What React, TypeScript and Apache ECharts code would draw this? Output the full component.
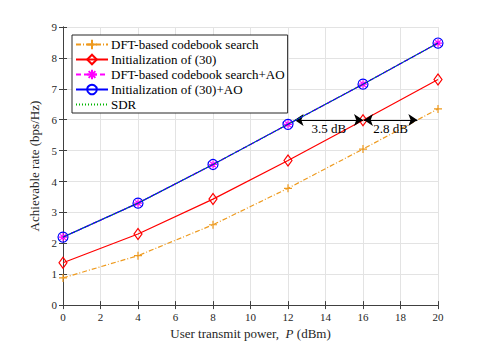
import React, { useEffect, useRef } from 'react';
import * as echarts from 'echarts';

const xValues = [0, 4, 8, 12, 16, 20];
const dftSearch = [0.88, 1.6, 2.6, 3.78, 5.05, 6.35];
const init30 = [1.37, 2.3, 3.43, 4.68, 5.98, 7.3];
const dftSearchAO = [2.2, 3.3, 4.55, 5.85, 7.15, 8.48];
const init30AO = [2.2, 3.3, 4.55, 5.85, 7.15, 8.48];
const sdr = [2.2, 3.3, 4.55, 5.85, 7.15, 8.48];
const seriesNames = [
  'DFT-based codebook search',
  'Initialization of (30)',
  'DFT-based codebook search+AO',
  'Initialization of (30)+AO',
  'SDR',
];
const gapArrows = [
  { from: [12.35, 5.99], to: [16, 5.99], label: '3.5 dB' },
  { from: [16.05, 5.99], to: [18.9, 5.99], label: '2.8 dB' },
];

const FONT = 'Liberation Serif';
const AXIS_COLOR = '#404040';
const GRID_COLOR = '#e3e3e3';

const pair = (ys: number[]) => xValues.map((x, i) => [x, ys[i]]);

export default function App() {
  const ref = useRef<HTMLDivElement>(null);
  useEffect(() => {
    document.body.style.margin = '0';
    if (!ref.current) return;
    const chart = echarts.init(ref.current, undefined, { renderer: 'svg' });
    const tickCommon = {
      axisLine: { show: true, lineStyle: { color: AXIS_COLOR, width: 1 } },
      axisTick: { show: true, inside: true, length: 4, lineStyle: { color: AXIS_COLOR } },
    };
    chart.setOption({
      animation: false,
      backgroundColor: '#fff',
      grid: { left: 63, right: 47, top: 27, bottom: 38, containLabel: false },
      legend: {
        orient: 'vertical',
        left: 72,
        top: 35,
        padding: [3, 3, 2, 3],
        itemWidth: 32,
        itemHeight: 12,
        itemGap: 2,
        borderColor: '#262626',
        borderWidth: 1,
        backgroundColor: '#fff',
        textStyle: { fontFamily: FONT, fontSize: 13, color: '#000', padding: [0, 0, 0, -2] },
        data: [
          seriesNames[0],
          seriesNames[1],
          seriesNames[2],
          seriesNames[3],
          { name: seriesNames[4], itemStyle: { opacity: 0 } },
        ],
      },
      xAxis: [
        {
          type: 'value',
          min: 0,
          max: 20,
          interval: 2,
          ...tickCommon,
          splitLine: { show: true, lineStyle: { color: GRID_COLOR } },
          axisLabel: { fontFamily: FONT, fontSize: 11, color: '#262626', margin: 6 },
          name: 'User transmit power,  {i|P} (dBm)',
          nameLocation: 'middle',
          nameGap: 20,
          nameTextStyle: {
            fontFamily: FONT,
            fontSize: 13,
            color: '#262626',
            rich: { i: { fontFamily: FONT, fontSize: 13, fontStyle: 'italic', color: '#262626' } },
          },
        },
        {
          type: 'value',
          position: 'top',
          min: 0,
          max: 20,
          interval: 2,
          ...tickCommon,
          splitLine: { show: false },
          axisLabel: { show: false },
        },
      ],
      yAxis: [
        {
          type: 'value',
          min: 0,
          max: 9,
          interval: 1,
          ...tickCommon,
          splitLine: { show: true, lineStyle: { color: GRID_COLOR } },
          axisLabel: { fontFamily: FONT, fontSize: 11, color: '#262626', margin: 6 },
          name: 'Achievable rate (bps/Hz)',
          nameLocation: 'middle',
          nameGap: 10,
          nameTextStyle: { fontFamily: FONT, fontSize: 13, color: '#262626' },
        },
        {
          type: 'value',
          position: 'right',
          min: 0,
          max: 9,
          interval: 1,
          ...tickCommon,
          splitLine: { show: false },
          axisLabel: { show: false },
        },
      ],
      series: [
        {
          name: seriesNames[0],
          type: 'line',
          data: pair(dftSearch),
          color: '#EE9A1E',
          symbol: 'path://M5,0L5,10M0,5L10,5',
          symbolSize: 8,
          itemStyle: { color: 'rgba(0,0,0,0)', borderColor: '#EE9A1E', borderWidth: 1.2 },
          lineStyle: { color: '#EE9A1E', width: 1.2, type: [5, 2, 1, 2] },
          z: 2,
        },
        {
          name: seriesNames[1],
          type: 'line',
          data: pair(init30),
          color: '#ff0000',
          symbol: 'diamond',
          symbolSize: [8, 11],
          itemStyle: { color: 'rgba(0,0,0,0)', borderColor: '#ff0000', borderWidth: 1.2 },
          lineStyle: { color: '#ff0000', width: 1.2, type: 'solid' },
          z: 3,
          markLine: {
            silent: true,
            animation: false,
            symbol: ['arrow', 'arrow'],
            symbolSize: 9,
            lineStyle: { color: '#000', width: 1.2, type: 'solid' },
            label: {
              show: true,
              position: 'insideMiddleBottom',
              fontFamily: FONT,
              fontSize: 13,
              color: '#000',
              distance: 2,
            },
            data: gapArrows.map((a) => [
              { coord: a.from, name: a.label, label: { formatter: a.label } },
              { coord: a.to },
            ]),
          },
        },
        {
          name: seriesNames[2],
          type: 'line',
          data: pair(dftSearchAO),
          color: '#ff00ff',
          symbol: 'path://M5,0L5,10M0,5L10,5M1.5,1.5L8.5,8.5M8.5,1.5L1.5,8.5',
          symbolSize: 8,
          itemStyle: { color: 'rgba(0,0,0,0)', borderColor: '#ff00ff', borderWidth: 1.2 },
          lineStyle: { color: '#ff00ff', width: 1.2, type: [5, 3] },
          z: 4,
        },
        {
          name: seriesNames[3],
          type: 'line',
          data: pair(init30AO),
          color: '#0000ff',
          symbol: 'circle',
          symbolSize: 10,
          itemStyle: { color: 'rgba(0,0,0,0)', borderColor: '#0000ff', borderWidth: 1.2 },
          lineStyle: { color: '#0000ff', width: 1.2, type: 'solid' },
          z: 5,
        },
        {
          name: seriesNames[4],
          type: 'line',
          data: pair(sdr),
          color: '#00b400',
          symbol: 'none',
          lineStyle: { color: '#00b400', width: 1.2, type: [1, 2] },
          z: 6,
        },
      ],
    });
    return () => chart.dispose();
  }, []);
  return <div ref={ref} style={{ width: 485, height: 345 }} />;
}
